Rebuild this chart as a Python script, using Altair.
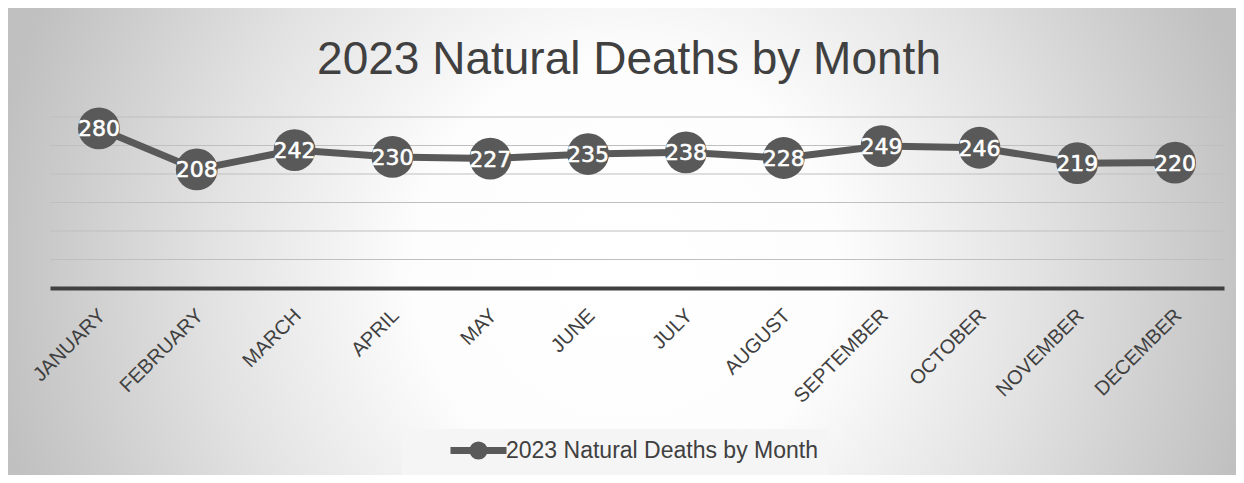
import altair as alt
import pandas as pd

MONTHS = ["JANUARY", "FEBRUARY", "MARCH", "APRIL", "MAY", "JUNE", "JULY",
          "AUGUST", "SEPTEMBER", "OCTOBER", "NOVEMBER", "DECEMBER"]
DEATHS = [280, 208, 242, 230, 227, 235, 238, 228, 249, 246, 219, 220]
SERIES = "2023 Natural Deaths by Month"
TITLE = "2023 Natural Deaths by Month"
Y_GRID = [50, 100, 150, 200, 250, 300]

df = pd.DataFrame({"month": MONTHS, "deaths": DEATHS, "series": [SERIES] * len(MONTHS)})
grid_df = pd.DataFrame({"deaths": Y_GRID})

W, H = 1174, 171
DARK = "#595959"
TEXT = "#404040"

x_enc = alt.X(
    "month:N", sort=MONTHS,
    scale=alt.Scale(type="point", padding=0.5),
    axis=alt.Axis(title=None, labelAngle=-45, labelAlign="right", labelBaseline="middle",
                  labelFont="Liberation Sans", labelFontSize=20, labelColor=TEXT,
                  labelPadding=24, labelOffset=3, ticks=False, tickSize=0,
                  domain=True, domainColor=TEXT, domainWidth=4, grid=False, zindex=1),
)
y_scale = alt.Scale(domain=[0, 300], nice=False, zero=True)
y_enc = alt.Y("deaths:Q", scale=y_scale, axis=None)

grad = alt.RadialGradient(
    gradient="radial",
    stops=[
        alt.GradientStop(offset=0, color="#ffffff"),
        alt.GradientStop(offset=0.33, color="#fdfdfd"),
        alt.GradientStop(offset=0.65, color="#e2e2e2"),
        alt.GradientStop(offset=1, color="#c0c0c0"),
    ],
    x1=0.5, y1=0.5, r1=0, x2=0.5, y2=0.5, r2=0.5,
)

bg = alt.Chart(pd.DataFrame({"a": [0]})).mark_rect(fill=grad).encode(
    x=alt.value(-65), x2=alt.value(1215), y=alt.value(-487), y2=alt.value(793)
)

grid = alt.Chart(grid_df).mark_rule(color="#bfbfbf", strokeWidth=1).encode(
    y=alt.Y("deaths:Q", scale=y_scale, axis=None),
    x=alt.value(0), x2=alt.value(W),
)

SYMBOL = "M-3.5,0L3.5,0M0.7,0A0.7,0.7,0,1,1,-0.7,0A0.7,0.7,0,1,1,0.7,0Z"

base = alt.Chart(df)

line = base.mark_line(strokeWidth=7).encode(
    x=x_enc, y=y_enc,
    color=alt.Color("series:N", scale=alt.Scale(range=[DARK]),
                    legend=alt.Legend(title=None, orient="none", legendX=352, legendY=312,
                                      padding=10, fillColor="#f5f5f5",
                                      symbolType=SYMBOL, symbolSize=256,
                                      symbolStrokeWidth=7, symbolFillColor=DARK,
                                      symbolStrokeColor=DARK, symbolOffset=55,
                                      labelOffset=16, labelLimit=600,
                                      labelFont="Liberation Sans",
                                      labelFontSize=23, labelColor=TEXT)),
)

circles = base.mark_circle(size=1750, color=DARK, opacity=1).encode(x=x_enc, y=y_enc)

labels = base.mark_text(font="DejaVu Sans", fontSize=22, color="white", stroke="white",
                        strokeWidth=0.6, baseline="middle", align="center", dy=1).encode(
    x=x_enc, y=y_enc, text="deaths:Q"
)

title = alt.Chart(pd.DataFrame({"t": [TITLE]})).mark_text(
    font="Liberation Sans", fontSize=46, color=TEXT, align="center", baseline="alphabetic"
).encode(x=alt.value(579), y=alt.value(-43), text="t:N")

chart = alt.layer(bg, grid, line, circles, labels, title).properties(
    width=W, height=H,
    padding={"left": 42, "top": 109, "right": 12, "bottom": 187},
    autosize=alt.AutoSizeParams(type="none"),
).configure_view(stroke=None).configure(background="white")

chart.save("out.html", embed_options={"renderer": "svg", "actions": False})
